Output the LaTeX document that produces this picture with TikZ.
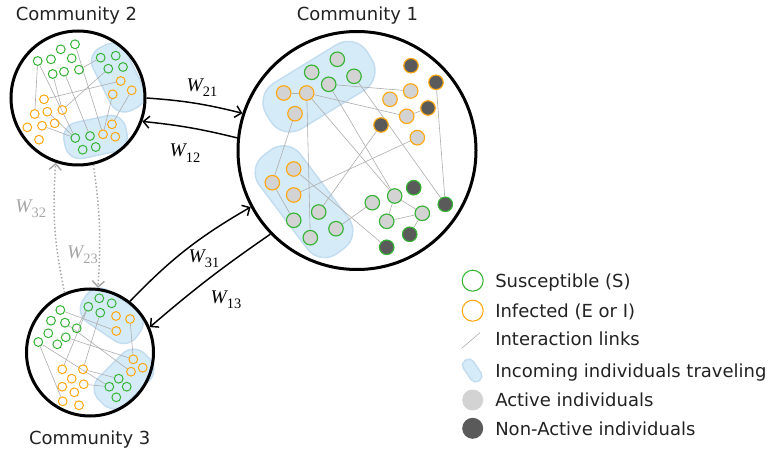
\documentclass[tikz,border=0pt]{standalone}
\usepackage{fontspec}
\setmainfont{DejaVu Sans}
\newfontfamily\wfont{Liberation Serif}
\usetikzlibrary{arrows.meta,bending}
\pgfdeclarelayer{blobs}
\pgfdeclarelayer{links}
\pgfsetlayers{blobs,links,main}
\definecolor{sgreen}{HTML}{35B335}
\definecolor{iorange}{HTML}{FFA70F}
\definecolor{blobfill}{HTML}{D6EBF8}
\definecolor{blobline}{HTML}{C3DDF0}
\definecolor{actfill}{HTML}{D3D3D3}
\definecolor{nonact}{HTML}{5A5A5A}
\definecolor{linkgray}{HTML}{ADADAD}
\definecolor{dotgray}{HTML}{A6A6A6}
\definecolor{txt}{HTML}{222222}
\newcommand{\wlab}[1]{{\wfont\itshape W\/}\kern-1pt\raisebox{-0.5ex}{\wfont\fontsize{10.8pt}{11pt}\selectfont #1}}
\begin{document}
\begin{tikzpicture}[x=0.75pt,y=-0.75pt,
  comm/.style={circle,draw=black,line width=2.25pt,inner sep=0,minimum size=#1},
  sg/.style={circle,draw=sgreen,line width=0.75pt,inner sep=0,minimum size=6.6pt},
  so/.style={circle,draw=iorange,line width=0.75pt,inner sep=0,minimum size=6.6pt},
  bga/.style={circle,draw=sgreen,fill=actfill,line width=0.85pt,inner sep=0,minimum size=10.9pt},
  boa/.style={circle,draw=iorange,fill=actfill,line width=0.85pt,inner sep=0,minimum size=10.9pt},
  bgn/.style={circle,draw=sgreen,fill=nonact,line width=0.85pt,inner sep=0,minimum size=10.9pt},
  bon/.style={circle,draw=iorange,fill=nonact,line width=0.85pt,inner sep=0,minimum size=10.9pt},
  blob/.style={rectangle,fill=blobfill,draw=blobline,line width=1.1pt,inner sep=0},
  link/.style={draw=linkgray,line width=0.45pt},
  flow/.style={-{Straight Barb[length=4.5pt,width=9pt,line width=1.1pt]},line width=1.1pt,black},
  dflow/.style={-{Straight Barb[length=4.5pt,width=9pt,line width=1.1pt]},line width=1.1pt,dotgray,dash pattern=on 1.1pt off 1.6pt},
  wl/.style={inner sep=0,text=black,font=\fontsize{14.5pt}{16pt}\selectfont},
  lab/.style={inner sep=0,text=txt,font=\fontsize{13.5pt}{16pt}\selectfont},
  leg/.style={circle,line width=0.8pt,inner sep=0,minimum size=15.75pt}
]
\useasboundingbox (0,0) rectangle (768,449);

% ---------------- blobs ----------------
\begin{pgfonlayer}{blobs}
\node[blob,minimum width=89pt,minimum height=40pt,rounded corners=17pt,rotate=31.5] (bl1) at (319,86.7) {};
\node[blob,minimum width=92pt,minimum height=38.5pt,rounded corners=16pt,rotate=-53] (bl2) at (304,201.7) {};
\node[blob,minimum width=52.5pt,minimum height=27.5pt,rounded corners=11.5pt,rotate=-63.5] (bl3) at (118.3,77.7) {};
\node[blob,minimum width=47.25pt,minimum height=27.5pt,rounded corners=11.5pt,rotate=12] (bl4) at (95.5,137) {};
\node[blob,minimum width=48.75pt,minimum height=28.5pt,rounded corners=12pt,rotate=-34] (bl5) at (111.7,315.8) {};
\node[blob,minimum width=48.75pt,minimum height=28.5pt,rounded corners=12pt,rotate=45] (bl6) at (124,379) {};
\node[blob,minimum width=18.4pt,minimum height=9pt,rounded corners=4pt,rotate=-56] (lpill) at (472.2,370.5) {};
\end{pgfonlayer}

% ---------------- community circles ----------------
\node[comm=178.5pt] (C1) at (357,150.5) {};
\node[comm=100.5pt] (C2) at (78,98) {};
\node[comm=95.25pt] (C3) at (90,352.5) {};

\node[lab,anchor=base] (L1) at (357.5,21) {Community 1};
\node[lab,anchor=base] (L2) at (76.5,20.7) {Community 2};
\node[lab,anchor=base] (L3) at (89.7,444.3) {Community 3};

% ---------------- community 1 ----------------
\node[bga] (a1) at (337.3,59.3) {};
\node[bga] (a2) at (311.7,72.3) {};
\node[bga] (a3) at (354,76.3) {};
\node[bga] (a4) at (328.7,84.3) {};
\node[boa] (a5) at (283.7,93) {};
\node[boa] (a6) at (306.7,93) {};
\node[boa] (a7) at (295,113.7) {};
\node[bon] (r1) at (411,65.7) {};
\node[bon] (r2) at (436,82.3) {};
\node[bon] (r3) at (428,108) {};
\node[bon] (r4) at (381,125) {};
\node[boa] (r5) at (410.7,91) {};
\node[boa] (r6) at (390,99.3) {};
\node[boa] (r7) at (406.7,116.3) {};
\node[boa] (r8) at (417.3,137.7) {};
\node[boa] (c1) at (293.7,169) {};
\node[boa] (c2) at (272.3,182.7) {};
\node[boa] (c3) at (293.7,195) {};
\node[bga] (c4) at (318.7,212) {};
\node[bga] (c5) at (293.7,220.3) {};
\node[bga] (c6) at (336,228.7) {};
\node[bga] (c7) at (310.3,237.7) {};
\node[bga] (d1) at (372.3,202.7) {};
\node[bga] (d2) at (394.7,196) {};
\node[bga] (d3) at (386.7,221.3) {};
\node[bga] (d4) at (422.3,213.3) {};
\node[bgn] (d5) at (413.7,187.7) {};
\node[bgn] (d6) at (445.3,204.3) {};
\node[bgn] (d7) at (409.7,234.3) {};
\node[bgn] (d8) at (386.7,247.3) {};

% ---------------- community 2 ----------------
\node[sg] (kg1) at (75,44.3) {};
\node[sg] (kg2) at (60.7,49.3) {};
\node[sg] (kg3) at (37.7,61) {};
\node[sg] (kg4) at (51,59.3) {};
\node[sg] (kg5) at (71.7,58.3) {};
\node[sg] (kg6) at (52.7,74) {};
\node[sg] (kg7) at (64,71.7) {};
\node[sg] (kg8) at (79,69.7) {};
\node[sg] (kt1) at (100.7,57.7) {};
\node[sg] (kt2) at (115.7,55.7) {};
\node[sg] (kt3) at (108.3,68.7) {};
\node[sg] (kt4) at (123,67) {};
\node[so] (kt5) at (120.7,81) {};
\node[so] (kt6) at (131.7,90.3) {};
\node[so] (kt7) at (112.7,94.3) {};
\node[so] (ko1) at (44,99.3) {};
\node[so] (ko2) at (34.7,114) {};
\node[so] (ko3) at (47.3,111.7) {};
\node[so] (ko4) at (62.3,110) {};
\node[so] (ko5) at (27.3,127.3) {};
\node[so] (ko6) at (42,125.7) {};
\node[so] (ko7) at (54.7,123.3) {};
\node[so] (ko8) at (39,139.7) {};
\node[sg] (kb1) at (75.3,138) {};
\node[sg] (kb2) at (90,136) {};
\node[sg] (kb3) at (82.7,149.7) {};
\node[sg] (kb4) at (95.7,147) {};
\node[so] (kb5) at (103,134.3) {};
\node[so] (kb6) at (112,124.3) {};
\node[so] (kb7) at (115.3,136.7) {};

% ---------------- community 3 ----------------
\node[sg] (h1) at (60.3,310) {};
\node[sg] (h2) at (51,320.7) {};
\node[sg] (h3) at (65,322.7) {};
\node[sg] (h4) at (76.7,328.3) {};
\node[sg] (h5) at (48.3,333.3) {};
\node[sg] (h6) at (65.7,337.3) {};
\node[sg] (h7) at (38.3,342) {};
\node[sg] (h8) at (57.3,344.3) {};
\node[sg] (u1) at (99.3,298.3) {};
\node[sg] (u2) at (88.3,306.7) {};
\node[sg] (u3) at (111.7,303.3) {};
\node[sg] (u4) at (100.3,312.7) {};
\node[so] (u5) at (116,316) {};
\node[so] (u6) at (130,319) {};
\node[so] (u7) at (116.3,331) {};
\node[so] (v1) at (133.3,359.3) {};
\node[so] (v2) at (142.7,367.7) {};
\node[so] (v3) at (131,371.7) {};
\node[sg] (v4) at (118.7,378.7) {};
\node[sg] (v5) at (109.3,386.7) {};
\node[sg] (v6) at (126.7,386.7) {};
\node[sg] (v7) at (116.3,397.3) {};
\node[so] (w1) at (62.3,369.3) {};
\node[so] (w2) at (83,369.3) {};
\node[so] (w3) at (71.7,378.7) {};
\node[so] (w4) at (62.3,386.7) {};
\node[so] (w5) at (83.7,384.3) {};
\node[so] (w6) at (74.3,392.3) {};
\node[so] (w7) at (62.7,401.3) {};
\node[so] (w8) at (79,405.3) {};

% ---------------- interaction links ----------------
\begin{pgfonlayer}{links}
\foreach \p/\q in {a4/r5,a6/r7,a6/c7,a6/d2,a4/d2,r8/c3,r4/c4,a3/d6,r2/d6,d1/c6,c1/d8,d2/d3,d2/d4,d3/d4,d4/d7,a7/c2,c2/c5,a5/a6,r3/r7,
  kg1/kb5,kg3/ko2,kg3/kb1,kg7/kb2,kg8/kt1,ko1/kt5,ko4/kt3,ko6/kb1,kt6/kb6,kb5/kt7,kg6/ko4,ko3/kb1,
  h1/u7,h3/v3,h6/v1,h7/v5,h7/w7,u2/w1,u4/w2,u6/v1,w2/v4,w5/v5,h4/u2}
  \draw[link] (\p) -- (\q);
\end{pgfonlayer}

% ---------------- flows ----------------
\draw[flow] (C2.0) to[bend left=5] (C1.162);
\draw[flow] (C1.174) to[bend right=4] (C2.340);
\draw[flow] (C3.52) to[bend left=8] (C1.208);
\draw[flow] (C1.224) to[bend right=3] (C3.23);
\draw[dflow] (C3.113) to[bend left=8] (C2.251);
\draw[dflow] (C2.283) to[bend left=6] (C3.83);

\node[wl] (w21) at (202,88) {\wlab{21}};
\node[wl] (w12) at (185,153.3) {\wlab{12}};
\node[wl] (w31) at (204,259) {\wlab{31}};
\node[wl] (w13) at (226,299.5) {\wlab{13}};
\node[wl,text=dotgray] (w32) at (30.8,209) {\wlab{32}};
\node[wl,text=dotgray] (w23) at (82.5,255) {\wlab{23}};

% ---------------- legend ----------------
\node[leg,draw=sgreen] (lg1) at (472.7,280.7) {};
\node[leg,draw=iorange] (lg2) at (472.7,310.7) {};
\coordinate (ll1) at (461.7,348.3);
\coordinate (ll2) at (480,332.7);
\draw[link] (ll1) -- (ll2);
\node[leg,fill=actfill] (lg5) at (472.7,400) {};
\node[leg,fill=nonact] (lg6) at (472.7,428.3) {};
\node[lab,anchor=base west] (lt1) at (495,287.3) {Susceptible (S)};
\node[lab,anchor=base west] (lt2) at (495,317.3) {Infected (E or I)};
\node[lab,anchor=base west] (lt3) at (495,345.7) {Interaction links};
\node[lab,anchor=base west] (lt4) at (495,377.3) {Incoming individuals traveling};
\node[lab,anchor=base west] (lt5) at (495,406.7) {Active individuals};
\node[lab,anchor=base west] (lt6) at (495,435) {Non-Active individuals};
\end{tikzpicture}
\end{document}
